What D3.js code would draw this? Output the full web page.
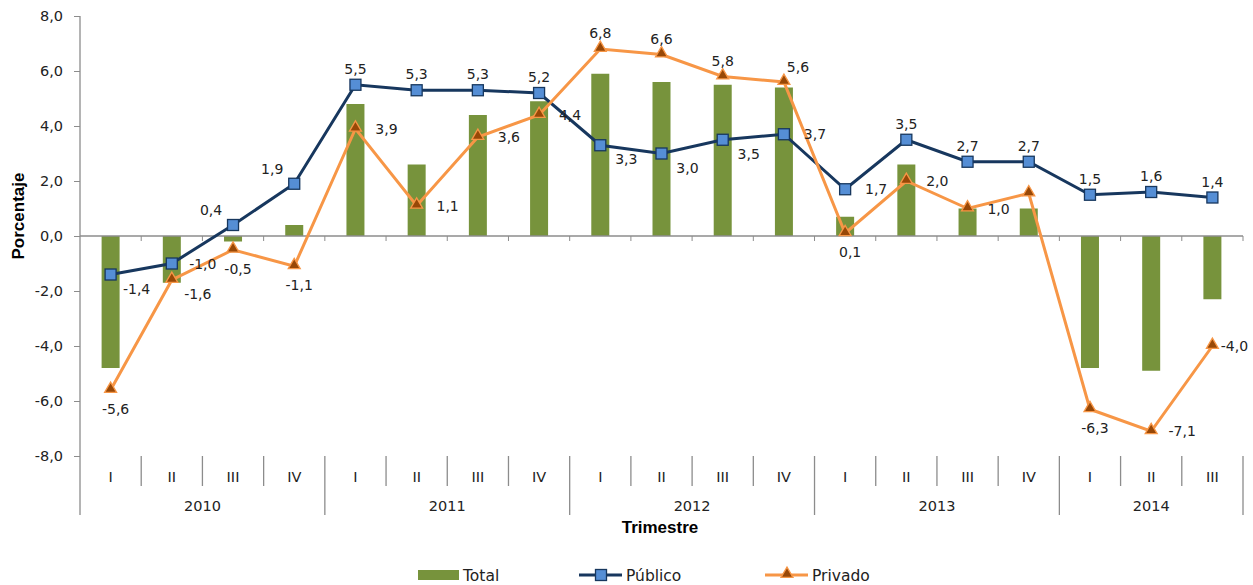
<!DOCTYPE html>
<html>
<head>
<meta charset="utf-8">
<script src="https://cdn.jsdelivr.net/npm/d3@7"></script>
<style>
  body { margin: 0; background: #fff; }
  svg { display: block; }
  text { font-family: "DejaVu Sans", sans-serif; fill: #222; }
  .bold { font-family: "Liberation Sans", sans-serif; font-weight: bold; fill: #000; }
</style>
</head>
<body>
<svg id="chart" width="1253" height="585"></svg>
<script>
// data
var years = ['2010', '2011', '2012', '2013', '2014'];
var quarters = ['I','II','III','IV','I','II','III','IV','I','II','III','IV','I','II','III','IV','I','II','III'];
var yearOf = [0,0,0,0,1,1,1,1,2,2,2,2,3,3,3,3,4,4,4];
var total = [-4.8,-1.7,-0.2,0.4,4.8,2.6,4.4,4.9,5.9,5.6,5.5,5.4,0.7,2.6,1.0,1.0,-4.8,-4.9,-2.3];
var publico = [-1.4,-1.0,0.4,1.9,5.5,5.3,5.3,5.2,3.3,3.0,3.5,3.7,1.7,3.5,2.7,2.7,1.5,1.6,1.4];
var privado = [-5.6,-1.6,-0.5,-1.1,3.9,1.1,3.6,4.4,6.8,6.6,5.8,5.6,0.1,2.0,1.0,1.55,-6.3,-7.1,-4.0];
var yTicks = [8,6,4,2,0,-2,-4,-6,-8];
// where Excel put the data labels (a = above, b = below, r = right, ...)
var pubPos = ['rb','r','al','al','a','a','a','a','rb','rb','rb','r','r','a','a','a','a','a','a'];
var priPos = ['b','rb','b','b','r','r','r','r','a','a','a','ar','b','r','r','none','b','r','rn'];

var G = {
  left: 80, right: 1243, top: 16, bottom: 456,
  green: '#77933C', navy: '#17375E', blue: '#558ED5',
  orange: '#F79646', brown: '#984807', axis: '#8c8c8c'
};

var svg = d3.select('#chart');
var fmt = function(v) { return d3.format('.1f')(v).replace('.', ',').replace('\u2212', '-'); };

var x = d3.scaleBand()
  .domain(d3.range(quarters.length))
  .range([G.left, G.right]);
var y = d3.scaleLinear().domain([-8, 8]).range([G.bottom, G.top]);
var cx = function(i) { return x(i) + x.bandwidth() / 2; };

// bars
svg.append('g').selectAll('rect')
  .data(total)
  .enter().append('rect')
  .attr('x', function(d, i) { return cx(i) - 9; })
  .attr('width', 18)
  .attr('y', function(d) { return y(Math.max(0, d)); })
  .attr('height', function(d) { return Math.abs(y(d) - y(0)); })
  .style('fill', G.green);

// y axis
var yAxis = svg.append('g')
  .attr('transform', 'translate(' + G.left + ',0)')
  .call(d3.axisLeft(y).tickValues(yTicks).tickFormat(fmt).tickSize(6).tickSizeOuter(0));
yAxis.select('.domain').remove();
yAxis.selectAll('line').style('stroke', G.axis);
yAxis.selectAll('text').style('font-size', '14.5px').style('font-family', '"DejaVu Sans", sans-serif')
  .attr('x', -17).style('fill', '#222');
svg.append('line')
  .attr('x1', G.left).attr('x2', G.left)
  .attr('y1', G.top).attr('y2', 515)
  .style('stroke', G.axis).style('stroke-width', 1.3);

// zero line with small ticks
svg.append('line')
  .attr('x1', G.left).attr('x2', G.right)
  .attr('y1', y(0)).attr('y2', y(0))
  .style('stroke', G.axis).style('stroke-width', 1.3);
svg.append('g').selectAll('line')
  .data(d3.range(1, quarters.length + 1))
  .enter().append('line')
  .attr('x1', function(i) { return i < quarters.length ? x(i) : G.right; })
  .attr('x2', function(i) { return i < quarters.length ? x(i) : G.right; })
  .attr('y1', y(0)).attr('y2', y(0) + 5)
  .style('stroke', G.axis);

// category axis (two levels)
var catAxis = svg.append('g');
d3.range(1, quarters.length + 1).forEach(function(i) {
  var xx = i < quarters.length ? x(i) : G.right;
  var yearEdge = i === quarters.length || yearOf[i] !== yearOf[i - 1];
  catAxis.append('line')
    .attr('x1', xx).attr('x2', xx)
    .attr('y1', G.bottom).attr('y2', yearEdge ? 515 : 486)
    .style('stroke', G.axis).style('stroke-width', 1.3);
});
catAxis.selectAll('.q')
  .data(quarters)
  .enter().append('text')
  .attr('x', function(d, i) { return cx(i); })
  .attr('y', 482)
  .attr('text-anchor', 'middle')
  .style('font-size', '14.5px')
  .text(function(d) { return d; });
catAxis.selectAll('.yr')
  .data(years)
  .enter().append('text')
  .attr('x', function(d, k) {
    var idx = d3.range(quarters.length).filter(function(i) { return yearOf[i] === k; });
    return (x(idx[0]) + x(idx[idx.length - 1]) + x.bandwidth()) / 2;
  })
  .attr('y', 511)
  .attr('text-anchor', 'middle')
  .style('font-size', '14.5px')
  .text(function(d) { return d; });

// axis titles
svg.append('text').attr('class', 'bold')
  .attr('x', 660).attr('y', 533)
  .attr('text-anchor', 'middle')
  .style('font-size', '17px')
  .text('Trimestre');
svg.append('text').attr('class', 'bold')
  .attr('transform', 'translate(24,' + (y(0) - 20) + ') rotate(-90)')
  .attr('text-anchor', 'middle')
  .style('font-size', '17px')
  .text('Porcentaje');

// lines
var line = d3.line().x(function(d, i) { return cx(i); }).y(function(d) { return y(d); });
svg.append('path').datum(publico)
  .attr('d', line)
  .style('fill', 'none').style('stroke', G.navy).style('stroke-width', 3);
svg.append('path').datum(privado)
  .attr('d', line)
  .style('fill', 'none').style('stroke', G.orange).style('stroke-width', 3);

var tri = d3.symbol().type(d3.symbolTriangle).size(62);

svg.append('g').selectAll('rect')
  .data(publico)
  .enter().append('rect')
  .attr('x', function(d, i) { return cx(i) - 5.5; })
  .attr('y', function(d) { return y(d) - 5.5; })
  .attr('width', 11).attr('height', 11)
  .style('fill', G.blue).style('stroke', G.navy).style('stroke-width', 1.3);

svg.append('g').selectAll('path')
  .data(privado)
  .enter().append('path')
  .attr('d', tri)
  .attr('transform', function(d, i) { return 'translate(' + cx(i) + ',' + (y(d) - 1) + ')'; })
  .style('fill', G.brown).style('stroke', G.orange).style('stroke-width', 1.3);

// data labels: offsets of the label baseline from the point
var offs = {
  a: [0, -11], b: [5, 24], r: [31, 5], rn: [22, 5],
  rb: [26, 19], al: [-22, -10], ar: [14, -10]
};
svg.append('g').selectAll('text')
  .data(publico)
  .enter().append('text')
  .attr('x', function(d, i) { return cx(i) + offs[pubPos[i]][0]; })
  .attr('y', function(d, i) { return y(d) + offs[pubPos[i]][1]; })
  .attr('text-anchor', 'middle')
  .style('font-size', '14px')
  .text(function(d) { return fmt(d); });
svg.append('g').selectAll('text')
  .data(privado.map(function(d, i) { return { v: d, i: i }; })
    .filter(function(d) { return priPos[d.i] !== 'none'; }))
  .enter().append('text')
  .attr('x', function(d) { return cx(d.i) + offs[priPos[d.i]][0]; })
  .attr('y', function(d) { return y(d.v) + offs[priPos[d.i]][1]; })
  .attr('text-anchor', 'middle')
  .style('font-size', '14px')
  .text(function(d) { return fmt(d.v); });

// legend
var lg = svg.append('g').attr('transform', 'translate(0,575)');
lg.append('rect').attr('x', 418).attr('y', -5).attr('width', 41).attr('height', 10).style('fill', G.green);
lg.append('text').attr('x', 463).attr('y', 6).style('font-size', '15.5px').text('Total');
lg.append('line').attr('x1', 579).attr('x2', 622).attr('y1', 0).attr('y2', 0)
  .style('stroke', G.navy).style('stroke-width', 3);
lg.append('rect').attr('x', 595.5).attr('y', -5.5).attr('width', 11).attr('height', 11)
  .style('fill', G.blue).style('stroke', G.navy).style('stroke-width', 1.3);
lg.append('text').attr('x', 626).attr('y', 6).style('font-size', '15.5px').text('Público');
lg.append('line').attr('x1', 765).attr('x2', 808).attr('y1', 0).attr('y2', 0)
  .style('stroke', G.orange).style('stroke-width', 3);
lg.append('path').attr('d', tri).attr('transform', 'translate(787,-1)')
  .style('fill', G.brown).style('stroke', G.orange).style('stroke-width', 1.3);
lg.append('text').attr('x', 812).attr('y', 6).style('font-size', '15.5px').text('Privado');
</script>
</body>
</html>
